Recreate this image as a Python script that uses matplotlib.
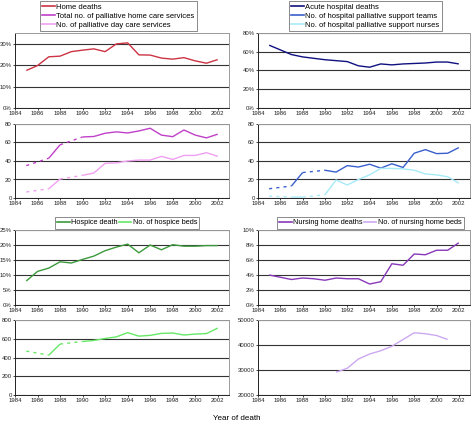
import numpy as np
import matplotlib
matplotlib.use("Agg")
import matplotlib.pyplot as plt
from matplotlib.lines import Line2D
from matplotlib.ticker import FuncFormatter

plt.rcParams['font.family'] = ['Liberation Sans', 'DejaVu Sans']

nan = np.nan
years = list(range(1985, 2003))
xticks = list(range(1984, 2003, 2))

home_deaths = [17.5, 19.8, 23.9, 24.2, 26.3, 27.0, 27.6, 26.3, 29.9, 30.4, 24.8, 24.7, 23.3, 22.8, 23.5, 22.0, 20.9, 22.6]
home_care = [35, nan, 43, 57.5, nan, 66, 66.5, 70, 71.5, 70.3, 72.5, 75.4, 68, 66.3, 73.5, 68, 65, 69]
day_care = [6.5, nan, 10, 20.5, nan, 24.5, 27, 37.5, 38, 40, 41, 41, 45, 41.7, 46, 46, 49, 45]

acute_deaths = [67, 62, 57, 54.5, 53, 51.5, 50.5, 49.5, 45, 43.5, 47, 46, 47, 47.5, 48, 49, 49, 47]
support_teams = [10, nan, 13, 27.5, nan, 30, 28, 35, 33.5, 36.5, 32.3, 37, 33, 48.4, 52.3, 48, 48.4, 54.5]
support_nurses = [2, nan, 1, 1, nan, 3.5, 19.5, 14, 20, 25, 32, 32, 31.5, 30, 26, 25, 23, 16]

hospice_deaths = [8, 11.2, 12.3, 14.4, 14, 15.2, 16.3, 18.1, 19.3, 20.3, 17.4, 20, 18.4, 20.1, 19.6, 19.6, 19.8, 19.8]
hospice_beds = [468, nan, 425, 543, nan, 571, 582, 603, 620, 665, 628, 636, 657, 661, 640, 650, 655, 714]

nursing_deaths = [4.0, 3.7, 3.4, 3.6, 3.5, 3.3, 3.6, 3.5, 3.5, 2.8, 3.1, 5.5, 5.3, 6.8, 6.7, 7.3, 7.3, 8.3]
nursing_beds = [nan, nan, nan, nan, nan, nan, 29100, 30700, 34400, 36400, 37700, 39500, 42200, 44900, 44500, 43800, 42200, nan]

C_HOME = '#CC3344'
C_CARE = '#C040C8'
C_DAY = '#F0A0F0'
C_ACUTE = '#101080'
C_TEAMS = '#3A5FCD'
C_NURSES = '#A8EAF8'
C_HOSP = '#3C9A3C'
C_BEDS = '#66E866'
C_NURS = '#8838B8'
C_NBEDS = '#CCA8F0'

FS = 4.3
LW = 1.0

fig = plt.figure(figsize=(4.74, 4.23), dpi=100)
W, H = 474, 423

def make_ax(x0, x1, y0, y1):
    ax = fig.add_axes([x0 / W, 1 - y1 / H, (x1 - x0) / W, (y1 - y0) / H])
    ax.set_xlim(1984, 2003)
    ax.set_xticks(xticks)
    ax.tick_params(labelsize=FS, length=1.6, width=0.6, pad=0.7, colors='#222222')
    for s in ('left', 'bottom'):
        ax.spines[s].set_color('#222222')
        ax.spines[s].set_linewidth(0.7)
    for s in ('top', 'right'):
        ax.spines[s].set_color('#9a9a9a')
        ax.spines[s].set_linewidth(0.7)
    ax.grid(axis='y', color='#333333', linewidth=0.8)
    ax.set_axisbelow(True)
    return ax

def draw(ax, vals, color):
    v = np.array(vals, dtype=float)
    ax.plot(years, v, color=color, lw=LW, solid_capstyle='butt', zorder=3)
    idx = [i for i in range(len(v)) if not np.isnan(v[i])]
    for a, b in zip(idx[:-1], idx[1:]):
        if b - a > 1:
            ax.plot([years[a], years[b]], [v[a], v[b]], color=color, lw=LW,
                    linestyle=(0, (2.2, 3.0)), zorder=3)

pct = FuncFormatter(lambda y, p: f"{y:.0f}%")

LX0, LX1 = 15, 229
RX0, RX1 = 258, 470

# Row 1
ax1 = make_ax(LX0, LX1, 33, 108)
draw(ax1, home_deaths, C_HOME)
ax1.set_ylim(0, 35)
ax1.set_yticks([0, 10, 20, 30])
ax1.yaxis.set_major_formatter(pct)

ax2 = make_ax(RX0, RX1, 33, 108)
draw(ax2, acute_deaths, C_ACUTE)
ax2.set_ylim(0, 80)
ax2.set_yticks([0, 20, 40, 60, 80])
ax2.yaxis.set_major_formatter(pct)

# Row 2
ax3 = make_ax(LX0, LX1, 124, 198)
draw(ax3, home_care, C_CARE)
draw(ax3, day_care, C_DAY)
ax3.set_ylim(0, 80)
ax3.set_yticks([0, 20, 40, 60, 80])

ax4 = make_ax(RX0, RX1, 124, 198)
draw(ax4, support_teams, C_TEAMS)
draw(ax4, support_nurses, C_NURSES)
ax4.set_ylim(0, 80)
ax4.set_yticks([0, 20, 40, 60, 80])

# Row 3
ax5 = make_ax(LX0, LX1, 230, 305)
draw(ax5, hospice_deaths, C_HOSP)
ax5.set_ylim(0, 25)
ax5.set_yticks([0, 5, 10, 15, 20, 25])
ax5.yaxis.set_major_formatter(pct)

ax6 = make_ax(RX0, RX1, 230, 305)
draw(ax6, nursing_deaths, C_NURS)
ax6.set_ylim(0, 10)
ax6.set_yticks([0, 2, 4, 6, 8, 10])
ax6.yaxis.set_major_formatter(pct)

# Row 4
ax7 = make_ax(LX0, LX1, 320, 395)
draw(ax7, hospice_beds, C_BEDS)
ax7.set_ylim(0, 800)
ax7.set_yticks([0, 200, 400, 600, 800])

ax8 = make_ax(RX0, RX1, 320, 395)
draw(ax8, nursing_beds, C_NBEDS)
ax8.set_ylim(20000, 50000)
ax8.set_yticks([20000, 30000, 40000, 50000])

# Legends
def legend(labels, colors, x0, y0, ncol, fs, colsp):
    handles = [Line2D([], [], color=c, lw=1.2) for c in colors]
    lg = fig.legend(handles, labels, loc='upper left',
                    bbox_to_anchor=(x0 / W, 1 - y0 / H), ncol=ncol,
                    fontsize=fs, frameon=True, fancybox=False,
                    handlelength=1.7, handletextpad=0.15, borderpad=0.3,
                    labelspacing=0.22, columnspacing=colsp, borderaxespad=0)
    fr = lg.get_frame()
    fr.set_edgecolor('#555555')
    fr.set_linewidth(0.6)
    return lg

legend(['Home deaths', 'Total no. of palliative home care services',
        'No. of palliative day care services'],
       [C_HOME, C_CARE, C_DAY], 40, 1, 1, 5.5, 0.4)
legend(['Acute hospital deaths', 'No. of hospital palliative support teams',
        'No. of hospital palliative support nurses'],
       [C_ACUTE, C_TEAMS, C_NURSES], 289, 1, 1, 5.5, 0.4)
legend(['Hospice death', 'No. of hospice beds'], [C_HOSP, C_BEDS], 55, 217, 2, 5.3, 0.2)
legend(['Nursing home deaths', 'No. of nursing home beds'], [C_NURS, C_NBEDS], 277, 217, 2, 5.3, 0.2)

fig.text(237 / W, 1 - 418 / H, 'Year of death', ha='center', va='center', fontsize=5.8)

fig.savefig('out.png', dpi=100)
